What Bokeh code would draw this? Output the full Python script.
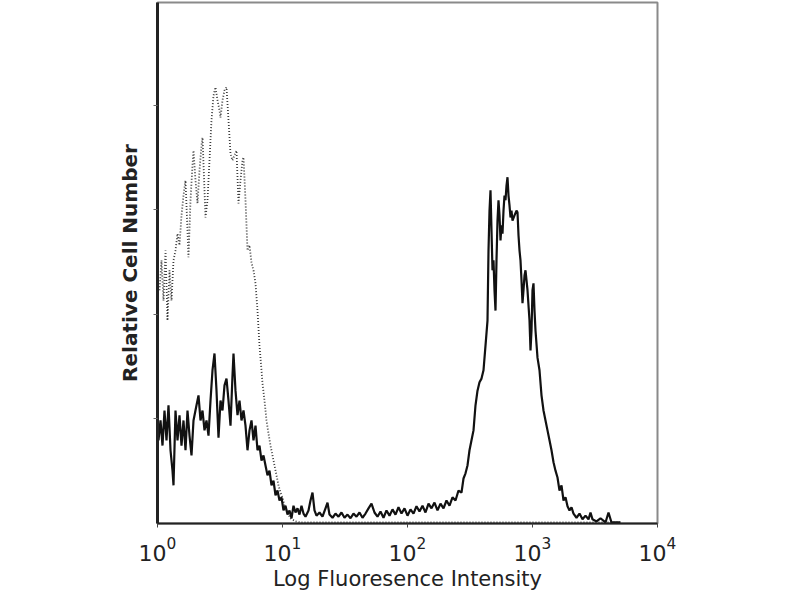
from bokeh.plotting import figure
from bokeh.models import FixedTicker, Range1d
from bokeh.embed import file_html
from bokeh.resources import INLINE

# Histogram channels, positions given in decades (log10 of intensity)
solid_log = [0.008, 0.024, 0.04, 0.056, 0.072, 0.088, 0.104, 0.12, 0.128, 0.144, 0.16, 0.176, 0.192, 0.208,
             0.224, 0.24, 0.256, 0.272, 0.288, 0.312, 0.328, 0.344, 0.36, 0.376, 0.392, 0.408, 0.424, 0.44,
             0.456, 0.472, 0.488, 0.504, 0.52, 0.536, 0.552, 0.568, 0.584, 0.6, 0.608, 0.624, 0.64, 0.656,
             0.672, 0.688, 0.704, 0.72, 0.736, 0.752, 0.768, 0.784, 0.8, 0.816, 0.832, 0.848, 0.864, 0.88,
             0.896, 0.912, 0.928, 0.944, 0.96, 0.976, 0.992, 1.008, 1.024, 1.04, 1.056, 1.072, 1.088, 1.104,
             1.12, 1.136, 1.152, 1.168, 1.184, 1.208, 1.224, 1.24, 1.256, 1.272, 1.296, 1.32, 1.344, 1.36,
             1.376, 1.4, 1.424, 1.448, 1.472, 1.496, 1.52, 1.544, 1.568, 1.592, 1.616, 1.64, 1.664, 1.688,
             1.712, 1.736, 1.76, 1.784, 1.808, 1.832, 1.856, 1.88, 1.904, 1.928, 1.952, 1.976, 2.0, 2.024,
             2.048, 2.072, 2.096, 2.12, 2.144, 2.168, 2.192, 2.216, 2.24, 2.264, 2.288, 2.312, 2.336, 2.36,
             2.384, 2.408, 2.432, 2.448, 2.464, 2.48, 2.496, 2.512, 2.528, 2.544, 2.56, 2.576, 2.592, 2.608,
             2.624, 2.64, 2.648, 2.656, 2.664, 2.672, 2.68, 2.688, 2.696, 2.704, 2.712, 2.72, 2.728, 2.736,
             2.744, 2.752, 2.76, 2.768, 2.776, 2.784, 2.792, 2.8, 2.808, 2.816, 2.824, 2.832, 2.84, 2.856,
             2.872, 2.88, 2.888, 2.896, 2.904, 2.912, 2.92, 2.928, 2.936, 2.944, 2.96, 2.976, 2.984, 2.992,
             3.0, 3.008, 3.016, 3.024, 3.04, 3.056, 3.072, 3.088, 3.104, 3.12, 3.136, 3.152, 3.168, 3.184,
             3.2, 3.216, 3.232, 3.248, 3.264, 3.28, 3.296, 3.312, 3.328, 3.352, 3.376, 3.4, 3.424, 3.448,
             3.464, 3.48, 3.512, 3.544, 3.584, 3.608, 3.632, 3.704]
solid_count = [15.9, 19.7, 14.9, 21.6, 15.9, 22.6, 14.0, 10.1, 7.3, 21.6, 15.9, 20.7, 14.9, 19.7,
               14.0, 21.6, 16.8, 13.0, 19.7, 22.6, 24.5, 19.7, 21.6, 17.8, 19.7, 16.8, 23.5, 29.3,
               32.5, 25.4, 16.4, 23.5, 21.6, 26.4, 27.7, 23.5, 18.7, 28.3, 32.5, 25.4, 20.7, 23.5,
               19.7, 21.6, 18.7, 14.0, 17.8, 19.7, 15.9, 18.7, 14.0, 14.9, 12.0, 13.0, 11.1, 9.2,
               10.1, 7.3, 8.2, 5.4, 6.3, 4.4, 5.0, 2.5, 3.4, 1.7, 2.5, 1.0, 3.4, 2.1,
               2.9, 1.7, 3.4, 1.9, 1.3, 2.5, 4.4, 5.9, 2.5, 1.5, 2.1, 1.3, 2.9, 4.0,
               1.7, 1.1, 1.9, 1.3, 2.1, 1.1, 1.7, 1.0, 1.9, 1.3, 2.1, 1.1, 1.9, 2.9,
               3.8, 2.1, 1.3, 2.3, 1.1, 2.5, 1.5, 2.7, 1.7, 3.1, 1.9, 2.9, 1.5, 2.7,
               1.9, 3.3, 2.3, 3.4, 2.1, 3.8, 2.9, 4.0, 2.5, 3.8, 2.9, 4.4, 3.4, 5.0,
               4.4, 6.3, 5.9, 8.6, 9.6, 11.1, 14.0, 15.9, 17.8, 22.6, 25.4, 27.0, 27.7, 29.3,
               34.0, 38.8, 52.2, 59.8, 63.7, 56.0, 48.4, 50.3, 44.6, 40.7, 50.3, 57.9, 61.8, 58.9,
               54.1, 57.0, 55.4, 59.8, 62.7, 61.8, 64.6, 66.2, 62.7, 60.8, 58.5, 59.8, 57.9, 58.9,
               59.8, 59.5, 55.1, 52.2, 50.3, 46.5, 42.1, 44.6, 47.4, 48.4, 44.6, 38.8, 33.1, 36.9,
               44.6, 45.9, 40.7, 36.9, 31.7, 29.3, 24.5, 21.6, 19.7, 17.8, 15.9, 14.0, 11.7, 10.1,
               8.8, 6.3, 7.3, 4.4, 5.0, 3.3, 2.5, 3.1, 1.9, 1.1, 1.9, 0.8, 1.5, 0.8,
               2.1, 0.8, 0.4, 1.0, 0.2, 2.1, 0.2, 0.2]

control_log = [0.016, 0.032, 0.048, 0.064, 0.08, 0.096, 0.112, 0.128, 0.144, 0.16, 0.176, 0.192, 0.208,
               0.224, 0.24, 0.248, 0.264, 0.28, 0.288, 0.304, 0.32, 0.336, 0.352, 0.36, 0.376, 0.384, 0.4,
               0.416, 0.432, 0.448, 0.464, 0.48, 0.496, 0.504, 0.52, 0.536, 0.552, 0.568, 0.584, 0.6,
               0.616, 0.632, 0.648, 0.664, 0.68, 0.688, 0.704, 0.72, 0.736, 0.752, 0.768, 0.784, 0.8,
               0.816, 0.832, 0.84, 0.856, 0.872, 0.888, 0.904, 0.92, 0.936, 0.952, 0.968, 0.984, 1.0,
               1.016, 1.04, 1.064, 1.104, 1.144, 3.7]
control_count = [44.6, 50.3, 42.6, 52.2, 38.8, 48.4, 42.6, 50.3, 52.2, 55.4, 53.2, 58.9, 62.7,
                 65.6, 56.0, 50.9, 61.8, 68.5, 71.3, 65.6, 61.2, 67.5, 72.3, 73.8, 63.7, 58.5, 61.8,
                 69.4, 77.1, 81.8, 83.4, 80.9, 79.0, 77.6, 80.9, 82.8, 83.4, 77.1, 70.7, 69.4,
                 70.4, 71.3, 61.2, 65.6, 69.4, 70.0, 61.8, 52.2, 53.2, 49.9, 48.4, 45.9, 40.7,
                 34.0, 29.3, 26.8, 23.5, 19.7, 17.2, 14.9, 13.0, 11.1, 9.2, 7.3, 5.9, 5.0,
                 3.4, 2.1, 1.0, 0.4, 0.2, 0.2]

x_ticks = [1, 10, 100, 1000, 10000]
y_ticks = [20, 40, 60, 80]

solid_x = [10 ** v for v in solid_log]
control_x = [10 ** v for v in control_log]

p = figure(width=800, height=600, x_axis_type="log", output_backend="svg", toolbar_location=None,
           x_range=Range1d(1, 10000), y_range=Range1d(0, 99.6),
           min_border_left=157, min_border_right=143, min_border_top=2, min_border_bottom=77)
p.grid.visible = False
p.background_fill_color = "white"
p.outline_line_color = "#8a8a8a"
p.outline_line_width = 2

p.line(control_x, control_count, line_color="#3c3c3c", line_width=1.8, line_dash="1 2")
p.line(solid_x, solid_count, line_color="#111111", line_width=2.2)

xa = p.xaxis[0]
xa.ticker = FixedTicker(ticks=x_ticks, minor_ticks=[])
xa.axis_label = "Log Fluoresence Intensity"
xa.axis_label_text_font = "DejaVu Sans"
xa.axis_label_text_font_style = "normal"
xa.axis_label_text_font_size = "21px"
xa.axis_label_text_color = "#222222"
xa.axis_label_standoff = 3
xa.major_label_text_font = "DejaVu Sans"
xa.major_label_text_font_size = "22px"
xa.major_label_text_color = "#222222"
xa.major_label_standoff = 9
xa.axis_line_color = "#222222"
xa.axis_line_width = 2
xa.major_tick_out = 4
xa.major_tick_in = 0
xa.major_tick_line_color = "#444444"

ya = p.yaxis[0]
ya.ticker = FixedTicker(ticks=y_ticks, minor_ticks=[])
ya.major_label_overrides = {t: "" for t in y_ticks}
ya.axis_label = "Relative Cell Number"
ya.axis_label_text_font = "DejaVu Sans"
ya.axis_label_text_font_style = "bold"
ya.axis_label_text_font_size = "20px"
ya.axis_label_text_color = "#222222"
ya.axis_label_standoff = 12
ya.axis_line_color = "#222222"
ya.axis_line_width = 3
ya.major_tick_out = 4
ya.major_tick_in = 0
ya.major_tick_line_color = "#666666"

open("out.html", "w").write(file_html(p, INLINE))
